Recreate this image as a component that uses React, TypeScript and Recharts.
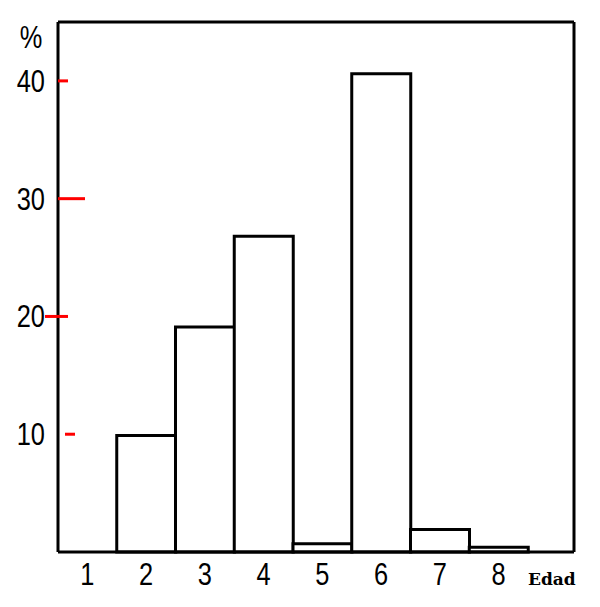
import React from 'react'
import { BarChart, Bar, XAxis, YAxis, CartesianGrid } from 'recharts'

const edades = ['1', '2', '3', '4', '5', '6', '7', '8']
const porcentajes = [0, 9.9, 19.1, 26.8, 0.7, 40.6, 1.9, 0.4]
const yTicks = [10, 20, 30, 40]

const data = edades.map((edad, i) => ({ edad, pct: porcentajes[i] }))

const numFont = '"Liberation Sans", Arial, sans-serif'
const squeeze = 0.82

function NarrowText({ x, y, anchor, children }: any) {
  return (
    <g transform={`translate(${x},${y}) scale(${squeeze},1)`}>
      <text x={0} y={0} textAnchor={anchor} fontSize={31} fontFamily={numFont} fill="#000">
        {children}
      </text>
    </g>
  )
}

// debug: different segments per tick
const segs: Record<number, [number, number]> = {
  40: [13, 23],
  30: [13, 40],
  20: [0, 23],
  10: [20, 30],
}

function YTick(props: any) {
  const x = Number(props.x)
  const y = Number(props.y)
  const s = segs[props.payload.value] || [13, 23]
  return (
    <g>
      <path d={`M${x + s[0]},${y}L${x + s[1]},${y}`} stroke="#f00" strokeWidth={3} />
      <NarrowText x={x} y={y + 11} anchor="end">
        {props.payload.value}
      </NarrowText>
    </g>
  )
}

function XTick(props: any) {
  return (
    <NarrowText x={Number(props.x)} y={Number(props.y) + 33} anchor="middle">
      {props.payload.value}
    </NarrowText>
  )
}

export default function App() {
  return (
    <div style={{ position: 'absolute', left: 0, top: 0, width: 600, height: 607, background: '#fff' }}>
      <BarChart
        width={600}
        height={607}
        data={data}
        margin={{ top: 22, right: 26, bottom: 0, left: 0 }}
        barCategoryGap={0}
      >
        <CartesianGrid
          stroke="#000"
          strokeWidth={3}
          strokeDasharray=""
          horizontalCoordinatesGenerator={({ offset }: any) => [offset.top]}
          verticalCoordinatesGenerator={({ offset }: any) => [offset.left + offset.width]}
        />
        <XAxis
          dataKey="edad"
          height={55}
          padding={{ left: 0, right: 46 }}
          axisLine={{ stroke: '#000', strokeWidth: 3 }}
          tickLine={false}
          tickSize={0}
          tickMargin={0}
          tick={<XTick />}
          interval={0}
        />
        <YAxis
          width={58}
          domain={[0, 45]}
          ticks={yTicks}
          axisLine={{ stroke: '#000', strokeWidth: 3 }}
          tickLine={false}
          tickSize={0}
          tickMargin={13}
          tick={<YTick />}
          interval={0}
        />
        <Bar dataKey="pct" fill="#fff" stroke="#000" strokeWidth={3} isAnimationActive={false} />
      </BarChart>
      <svg
        width={60}
        height={60}
        style={{ position: 'absolute', left: 0, top: 0, overflow: 'visible' }}
      >
        <NarrowText x={31} y={48} anchor="middle">
          %
        </NarrowText>
      </svg>
      <span
        style={{
          position: 'absolute',
          left: 528,
          top: 571,
          fontSize: 17,
          lineHeight: '17px',
          fontFamily: '"DejaVu Serif", serif',
          fontWeight: 'bold',
          color: '#000',
        }}
      >
        Edad
      </span>
    </div>
  )
}
